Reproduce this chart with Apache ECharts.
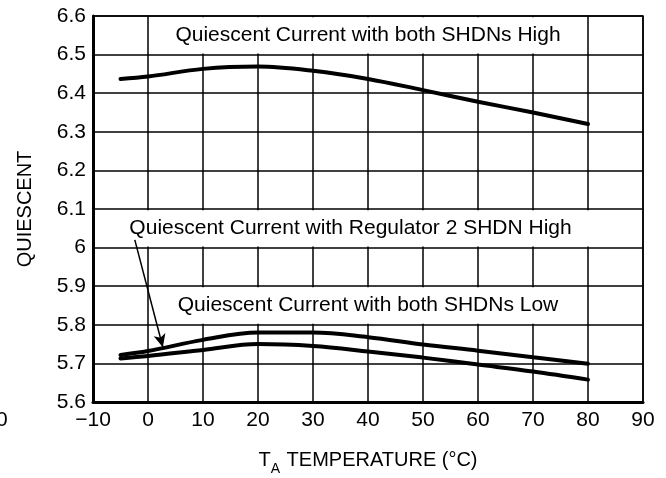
<!DOCTYPE html>
<html>
<head>
<meta charset="utf-8">
<title>Quiescent current vs temperature</title>
<script src="https://cdn.jsdelivr.net/npm/echarts@6/dist/echarts.min.js"></script>
<style>
  html, body { margin: 0; padding: 0; background: #fff; }
  #chart { width: 666px; height: 478px; }
</style>
</head>
<body>
<div id="chart"></div>
<script>
  // temperature points (°C)
  var tempC = [-5, 0, 10, 20, 30, 40, 50, 60, 70, 80];
  // quiescent current, both SHDNs high
  var bothHigh = [6.437, 6.443, 6.463, 6.469, 6.458, 6.437, 6.408, 6.378, 6.350, 6.320];
  // quiescent current, regulator 2 SHDN high
  var reg2High = [5.722, 5.732, 5.761, 5.780, 5.780, 5.768, 5.749, 5.733, 5.716, 5.699];
  // quiescent current, both SHDNs low
  var bothLow = [5.713, 5.719, 5.735, 5.750, 5.745, 5.731, 5.715, 5.697, 5.679, 5.658];

  var xTicks = { min: -10, max: 90, step: 10 };
  var yTicks = { min: 5.6, max: 6.6, step: 0.1 };

  var labelHigh = 'Quiescent Current with both SHDNs High';
  var labelReg2 = 'Quiescent Current with Regulator 2 SHDN High';
  var labelLow = 'Quiescent Current with both SHDNs Low';

  var font = '"Liberation Sans", Arial, sans-serif';

  function pairs(xs, ys) {
    return xs.map(function (x, i) { return [x, ys[i]]; });
  }

  function curve(name, values) {
    return {
      name: name,
      type: 'line',
      data: pairs(tempC, values),
      smooth: 0.35,
      symbol: 'none',
      silent: true,
      lineStyle: { color: '#000', width: 4, cap: 'round' },
      z: 3
    };
  }

  var boxLabel = {
    show: true,
    position: 'inside',
    color: '#000',
    fontSize: 21,
    fontFamily: font
  };

  var option = {
    backgroundColor: '#fff',
    animation: false,
    grid: {
      left: 93,
      right: 23,
      top: 16,
      bottom: 76,
      show: true,
      borderColor: '#000',
      borderWidth: 1.5,
      containLabel: false,
      outerBoundsMode: 'none'
    },
    xAxis: {
      type: 'value',
      min: xTicks.min,
      max: xTicks.max,
      interval: xTicks.step,
      name: '{t|T}{s|A}{t| TEMPERATURE (°C)}',
      nameLocation: 'middle',
      nameGap: 48,
      nameTextStyle: {
        rich: {
          t: { fontSize: 20, color: '#000', fontFamily: font, verticalAlign: 'bottom', padding: [0, 0, 6, 0] },
          s: { fontSize: 14, color: '#000', fontFamily: font, verticalAlign: 'bottom', padding: [0, 1, 0, 0] }
        }
      },
      axisLine: { show: true, onZero: false, lineStyle: { color: '#000', width: 3 } },
      axisTick: { show: false },
      axisLabel: {
        color: '#000',
        fontSize: 21,
        fontFamily: font,
        margin: 8,
        formatter: function (v) {
          return v < 0 ? '\u2212' + Math.abs(v) : String(v);
        }
      },
      splitLine: { show: true, lineStyle: { color: '#000', width: 1.5 } }
    },
    yAxis: {
      type: 'value',
      min: yTicks.min,
      max: yTicks.max,
      interval: yTicks.step,
      name: 'QUIESCENT',
      nameLocation: 'middle',
      nameGap: 58,
      nameTextStyle: { color: '#000', fontSize: 20, fontFamily: font },
      axisLine: { show: true, onZero: false, lineStyle: { color: '#000', width: 3 } },
      axisTick: { show: false },
      axisLabel: { color: '#000', fontSize: 21, fontFamily: font, margin: 7 },
      splitLine: { show: true, lineStyle: { color: '#000', width: 1.5 } }
    },
    graphic: [{
      // clipped tick label at the left edge of the scan
      type: 'text',
      left: -4,
      top: 410,
      style: { text: '0', fontSize: 21, fontFamily: font, fill: '#000' }
    }],
    series: [
      curve('both SHDNs High', bothHigh),
      curve('Regulator 2 SHDN High', reg2High),
      curve('both SHDNs Low', bothLow),
      {
        // white label boxes that hide the grid behind the captions
        name: 'labels',
        type: 'line',
        data: [],
        silent: true,
        markArea: {
          silent: true,
          z: 1,
          itemStyle: { color: '#fff', borderWidth: 0 },
          label: boxLabel,
          data: [
            [{ name: labelHigh, coord: [0.2, 6.597] }, { coord: [79.8, 6.503] }],
            [{ name: labelReg2, coord: [-9.6, 6.097], label: { offset: [-18, 0] } }, { coord: [89.8, 6.003] }],
            [{ name: labelLow, coord: [0.2, 5.897] }, { coord: [79.8, 5.803] }]
          ]
        },
        markLine: {
          silent: true,
          z: 6,
          symbol: ['none', 'arrow'],
          symbolSize: [9, 13],
          label: { show: false },
          lineStyle: { color: '#000', width: 1.5, type: 'solid' },
          data: [
            [{ coord: [-2.4, 6.02] }, { coord: [2.7, 5.742] }]
          ]
        }
      }
    ]
  };

  var myChart = echarts.init(document.getElementById('chart'), null, { renderer: 'canvas' });
  myChart.setOption(option);
</script>
</body>
</html>
